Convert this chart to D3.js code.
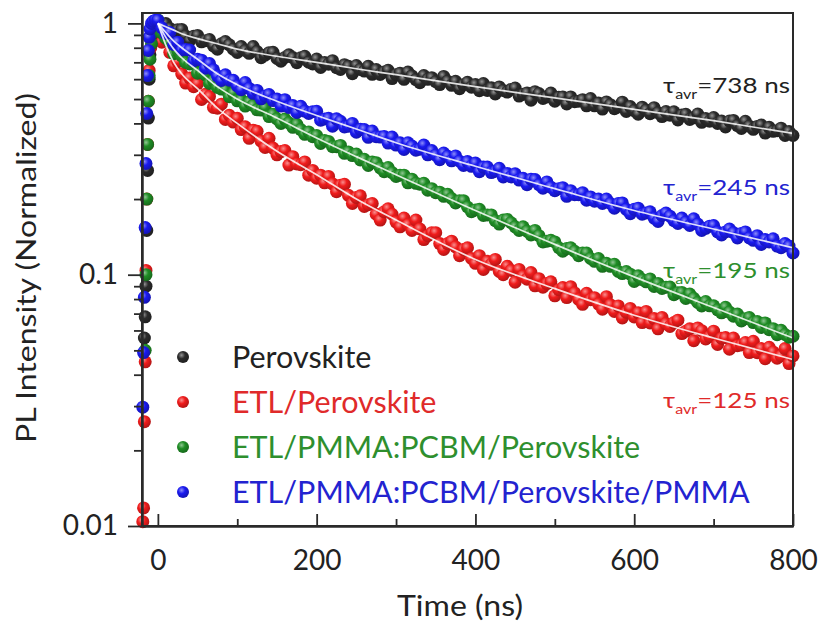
<!DOCTYPE html>
<html>
<head>
<meta charset="utf-8">
<script src="https://cdn.jsdelivr.net/npm/d3@7"></script>
<style>
  html, body { margin: 0; padding: 0; background: #fff; }
  svg { display: block; }
  text { font-family: Lato, "Open Sans", sans-serif; }
</style>
</head>
<body>
<svg id="chart" width="821" height="625"></svg>
<script>
// ---- data ---------------------------------------------------------------
const seriesNames = ["Perovskite", "ETL/Perovskite", "ETL/PMMA:PCBM/Perovskite", "ETL/PMMA:PCBM/Perovskite/PMMA"];
const seriesColors = ["#2b2b2b", "#f01c1c", "#1f8d25", "#1a1af0"];
const textColors = ["#222222", "#e02a2a", "#2e8f2e", "#2323d0"];
const tauLabels = ["738", "125", "195", "245"];

// rising edge of each transient (ns, normalized PL)
const riseTimesBlack = [-17, -16, -15, -14, -13, -12, -11, -10, -8, -6, -3];
const riseBlack = [0.056, 0.068, 0.09, 0.15, 0.26, 0.42, 0.6, 0.75, 0.88, 0.96, 1.0];
const riseTimesRed = [-19, -18, -17, -16, -15, -14, -13, -12, -11, -9, -7, -4];
const riseRed = [0.0104, 0.0118, 0.026, 0.045, 0.104, 0.2, 0.33, 0.49, 0.65, 0.8, 0.92, 0.98];
const riseTimesGreen = [-16, -15, -14, -13, -12, -11, -10, -8, -6, -3];
const riseGreen = [0.05, 0.1, 0.2, 0.33, 0.49, 0.62, 0.72, 0.83, 0.92, 0.98];
const riseTimesBlue = [-19, -18, -17, -16, -15, -14, -13, -12, -11, -10, -8, -6, -3];
const riseBlue = [0.0297, 0.049, 0.0813, 0.154, 0.277, 0.438, 0.62, 0.78, 0.88, 0.95, 1.0, 1.02, 1.03];

// decay, sampled every 5 ns from 0 to 800 ns
const decayTimes = d3.range(0, 801, 5);
const decayBlack = [
  1.01, 0.965, 0.999, 0.955, 0.912, 0.944, 0.946, 0.891, 0.854, 0.889, 0.896, 0.845, 0.854, 0.863, 0.813, 0.789, 0.830, 0.847, 0.822, 0.790,
  0.766, 0.809, 0.780, 0.760, 0.809, 0.773, 0.730, 0.747, 0.765, 0.767, 0.725, 0.707, 0.732, 0.750, 0.731, 0.698, 0.730, 0.740, 0.701, 0.690,
  0.721, 0.668, 0.699, 0.688, 0.711, 0.666, 0.656, 0.685, 0.675, 0.631, 0.680, 0.656, 0.646, 0.675, 0.627, 0.655, 0.626, 0.641, 0.651, 0.603,
  0.625, 0.634, 0.599, 0.640, 0.618, 0.597, 0.581, 0.620, 0.599, 0.608, 0.586, 0.571, 0.615, 0.589, 0.567, 0.588, 0.550, 0.570, 0.583, 0.557,
  0.571, 0.540, 0.576, 0.541, 0.554, 0.524, 0.559, 0.541, 0.533, 0.546, 0.553, 0.514, 0.522, 0.529, 0.495, 0.535, 0.526, 0.503, 0.510, 0.528,
  0.490, 0.508, 0.510, 0.478, 0.510, 0.488, 0.490, 0.497, 0.470, 0.502, 0.470, 0.482, 0.456, 0.487, 0.475, 0.458, 0.465, 0.486, 0.446, 0.467,
  0.450, 0.435, 0.464, 0.452, 0.437, 0.462, 0.441, 0.426, 0.446, 0.431, 0.445, 0.413, 0.432, 0.435, 0.415, 0.421, 0.436, 0.404, 0.418, 0.408,
  0.422, 0.400, 0.409, 0.387, 0.409, 0.411, 0.392, 0.382, 0.408, 0.390, 0.379, 0.389, 0.394, 0.366, 0.386, 0.372, 0.374, 0.383, 0.358, 0.371,
  0.358];
const decayRed = [
  0.984, 0.842, 0.859, 0.767, 0.678, 0.704, 0.630, 0.579, 0.607, 0.560, 0.576, 0.498, 0.522, 0.512, 0.463, 0.460, 0.477, 0.415, 0.431, 0.405,
  0.419, 0.378, 0.388, 0.349, 0.376, 0.372, 0.340, 0.321, 0.349, 0.319, 0.300, 0.309, 0.312, 0.273, 0.295, 0.276, 0.274, 0.281, 0.249, 0.260,
  0.242, 0.249, 0.232, 0.246, 0.230, 0.214, 0.227, 0.229, 0.207, 0.192, 0.203, 0.206, 0.187, 0.190, 0.192, 0.174, 0.165, 0.178, 0.183, 0.174,
  0.162, 0.155, 0.168, 0.158, 0.150, 0.165, 0.152, 0.138, 0.143, 0.147, 0.147, 0.133, 0.126, 0.133, 0.136, 0.129, 0.119, 0.126, 0.128, 0.116,
  0.111, 0.119, 0.105, 0.113, 0.110, 0.115, 0.103, 0.100, 0.108, 0.104, 0.0934, 0.105, 0.0988, 0.096, 0.102, 0.0903, 0.0964, 0.0892, 0.0922, 0.0937,
  0.0824, 0.0871, 0.0889, 0.0811, 0.0896, 0.0846, 0.0797, 0.0762, 0.0843, 0.0795, 0.081, 0.0764, 0.0729, 0.0818, 0.0759, 0.0714, 0.0751, 0.0673, 0.0709, 0.0734,
  0.0679, 0.0706, 0.0645, 0.0714, 0.0643, 0.0669, 0.0609, 0.0676, 0.0638, 0.0622, 0.0645, 0.0659, 0.0583, 0.0596, 0.0609, 0.0546, 0.0614, 0.0599, 0.0555, 0.0567,
  0.0596, 0.0528, 0.0559, 0.0562, 0.0505, 0.056, 0.0522, 0.0525, 0.0537, 0.049, 0.0543, 0.0489, 0.0508, 0.0463, 0.0514, 0.0493, 0.0465, 0.0475, 0.0508, 0.0443,
  0.0475];
const decayGreen = [
  1.032, 0.917, 0.873, 0.842, 0.758, 0.778, 0.742, 0.699, 0.690, 0.691, 0.634, 0.637, 0.624, 0.577, 0.592, 0.556, 0.548, 0.545, 0.511, 0.528,
  0.492, 0.496, 0.469, 0.487, 0.472, 0.453, 0.452, 0.462, 0.426, 0.435, 0.417, 0.400, 0.416, 0.402, 0.386, 0.397, 0.378, 0.362, 0.370, 0.354,
  0.358, 0.333, 0.342, 0.339, 0.323, 0.323, 0.327, 0.304, 0.308, 0.298, 0.302, 0.286, 0.288, 0.272, 0.281, 0.279, 0.266, 0.257, 0.267, 0.255,
  0.246, 0.249, 0.249, 0.232, 0.240, 0.231, 0.229, 0.231, 0.217, 0.220, 0.212, 0.213, 0.205, 0.209, 0.201, 0.193, 0.197, 0.197, 0.186, 0.178,
  0.181, 0.182, 0.172, 0.173, 0.173, 0.164, 0.159, 0.165, 0.166, 0.161, 0.155, 0.150, 0.155, 0.149, 0.144, 0.150, 0.143, 0.135, 0.136, 0.137,
  0.135, 0.128, 0.124, 0.127, 0.128, 0.124, 0.119, 0.122, 0.122, 0.116, 0.113, 0.116, 0.108, 0.111, 0.108, 0.110, 0.103, 0.101, 0.103, 0.1005,
  0.094, 0.099, 0.0956, 0.0937, 0.0962, 0.0898, 0.0923, 0.0882, 0.0891, 0.0893, 0.0832, 0.0848, 0.085, 0.0804, 0.0838, 0.0806, 0.0775, 0.0751, 0.0782, 0.0752,
  0.0752, 0.0725, 0.0705, 0.0742, 0.071, 0.0684, 0.0697, 0.0655, 0.0668, 0.0675, 0.0645, 0.0651, 0.0617, 0.0643, 0.0604, 0.061, 0.0577, 0.0601, 0.0578, 0.0564,
  0.0569];
const decayBlue = [
  1.03, 0.96, 0.911, 0.920, 0.825, 0.842, 0.784, 0.788, 0.783, 0.710, 0.720, 0.714, 0.663, 0.692, 0.654, 0.617, 0.593, 0.624, 0.594, 0.594,
  0.564, 0.545, 0.582, 0.551, 0.527, 0.541, 0.501, 0.514, 0.521, 0.493, 0.500, 0.469, 0.497, 0.463, 0.471, 0.442, 0.468, 0.448, 0.438, 0.445,
  0.447, 0.412, 0.416, 0.419, 0.390, 0.417, 0.408, 0.387, 0.390, 0.400, 0.369, 0.379, 0.378, 0.352, 0.373, 0.354, 0.353, 0.355, 0.334, 0.353,
  0.328, 0.335, 0.315, 0.335, 0.325, 0.313, 0.316, 0.328, 0.300, 0.312, 0.299, 0.287, 0.305, 0.296, 0.284, 0.297, 0.283, 0.272, 0.282, 0.270,
  0.278, 0.257, 0.268, 0.268, 0.255, 0.258, 0.265, 0.245, 0.253, 0.245, 0.252, 0.238, 0.242, 0.228, 0.240, 0.239, 0.228, 0.221, 0.234, 0.223,
  0.216, 0.220, 0.222, 0.205, 0.216, 0.208, 0.208, 0.212, 0.198, 0.204, 0.196, 0.200, 0.192, 0.200, 0.192, 0.184, 0.192, 0.193, 0.182, 0.175,
  0.182, 0.184, 0.174, 0.176, 0.178, 0.168, 0.163, 0.172, 0.176, 0.171, 0.164, 0.160, 0.168, 0.162, 0.157, 0.167, 0.159, 0.150, 0.153, 0.156,
  0.157, 0.148, 0.144, 0.148, 0.152, 0.147, 0.140, 0.146, 0.148, 0.140, 0.137, 0.143, 0.132, 0.138, 0.135, 0.139, 0.130, 0.128, 0.133, 0.130,
  0.122];

// fitted decay curves
const fitTimes = [0, 10, 20, 30, 50, 75, 100, 150, 200, 250, 300, 400, 500, 600, 700, 800];
const fitBlack = [1.0, 0.97, 0.94, 0.91, 0.87, 0.83, 0.79, 0.74, 0.70, 0.66, 0.625, 0.56, 0.505, 0.455, 0.41, 0.365];
const fitRed = [1.0, 0.82, 0.70, 0.63, 0.55, 0.46, 0.40, 0.31, 0.25, 0.20, 0.165, 0.115, 0.088, 0.069, 0.056, 0.046];
const fitGreen = [1.0, 0.88, 0.79, 0.73, 0.65, 0.56, 0.50, 0.42, 0.35, 0.295, 0.25, 0.18, 0.132, 0.098, 0.074, 0.056];
const fitBlue = [1.0, 0.92, 0.85, 0.80, 0.72, 0.63, 0.57, 0.49, 0.43, 0.38, 0.335, 0.27, 0.22, 0.18, 0.152, 0.128];

const xTickValues = [0, 200, 400, 600, 800];
const xMinorTicks = [100, 300, 500, 700];
const yTickValues = [0.01, 0.1, 1];
const yTickLabels = ["0.01", "0.1", "1"];

// ---- layout -------------------------------------------------------------
const frame = { left: 142, right: 793, top: 13, bottom: 526 };
const svg = d3.select("#chart");

const x = d3.scaleLinear().domain([-20, 800]).range([frame.left, frame.right]);
const y = d3.scaleLog().domain([0.01, 1.1]).range([frame.bottom, frame.top]);

// sphere shading for the markers
const defs = svg.append("defs");
seriesColors.forEach((c, i) => {
  const g = defs.append("radialGradient").attr("id", "ball" + i)
    .attr("cx", "38%").attr("cy", "35%").attr("r", "65%");
  g.append("stop").attr("offset", "0%").attr("stop-color", d3.interpolateRgb(c, "#ffffff")(0.5));
  g.append("stop").attr("offset", "45%").attr("stop-color", c);
  g.append("stop").attr("offset", "100%").attr("stop-color", d3.color(c).darker(0.8));
});

const series = [
  { rt: riseTimesBlack, rv: riseBlack, dv: decayBlack, fv: fitBlack },
  { rt: riseTimesRed, rv: riseRed, dv: decayRed, fv: fitRed },
  { rt: riseTimesGreen, rv: riseGreen, dv: decayGreen, fv: fitGreen },
  { rt: riseTimesBlue, rv: riseBlue, dv: decayBlue, fv: fitBlue }
];

const line = d3.line().x(d => x(d[0])).y(d => y(d[1])).curve(d3.curveMonotoneX);

series.forEach((s, i) => {
  const pts = s.rt.map((t, k) => [t, s.rv[k]]).concat(decayTimes.map((t, k) => [t, s.dv[k]]));
  svg.append("g").selectAll("circle").data(pts).join("circle")
    .attr("cx", d => x(d[0])).attr("cy", d => y(d[1])).attr("r", 6.5)
    .attr("fill", `url(#ball${i})`);
});
series.forEach((s, i) => {
  svg.append("path").datum(fitTimes.map((t, k) => [t, s.fv[k]]))
    .attr("d", line).attr("fill", "none")
    .attr("stroke", "#ffffff").attr("stroke-opacity", 0.85).attr("stroke-width", 1.7);
});

// frame
svg.append("rect").attr("x", frame.left).attr("y", frame.top)
  .attr("width", frame.right - frame.left).attr("height", frame.bottom - frame.top)
  .attr("fill", "none").attr("stroke", "#2a2a2a").attr("stroke-width", 2);

// x axis: ticks point into the plot
svg.append("g").attr("transform", `translate(0,${frame.bottom})`)
  .call(d3.axisBottom(x).tickValues(xTickValues).tickSize(-12).tickSizeOuter(0).tickPadding(24).tickFormat(d3.format("d")));
svg.append("g").attr("transform", `translate(0,${frame.bottom})`)
  .call(d3.axisBottom(x).tickValues(xMinorTicks).tickSize(-7).tickSizeOuter(0).tickFormat(""));

// y axis: ticks point outward
const minorY = [];
[0.01, 0.1].forEach(dec => { for (let m = 2; m <= 9; m++) minorY.push(dec * m); });
svg.append("g").attr("transform", `translate(${frame.left},0)`)
  .call(d3.axisLeft(y).tickValues(yTickValues).tickSize(14).tickSizeOuter(0).tickPadding(10)
    .tickFormat((d, k) => yTickLabels[k]));
svg.append("g").attr("transform", `translate(${frame.left},0)`)
  .call(d3.axisLeft(y).tickValues(minorY).tickSize(8).tickSizeOuter(0).tickFormat(""));

svg.selectAll(".domain").attr("stroke", "#2a2a2a").attr("stroke-width", 2);
svg.selectAll(".tick line").attr("stroke", "#2a2a2a").attr("stroke-width", 1.8);
svg.selectAll(".tick text").attr("font-size", 28).attr("fill", "#222").style("font-family", "Lato");

// axis titles
svg.append("text").attr("x", 460).attr("y", 616).attr("text-anchor", "middle")
  .attr("font-size", 28).attr("fill", "#222")
  .attr("textLength", 126).attr("lengthAdjust", "spacingAndGlyphs").text("Time (ns)");
svg.append("text").attr("transform", "translate(36,268) rotate(-90)").attr("text-anchor", "middle")
  .attr("font-size", 26).attr("fill", "#222")
  .attr("textLength", 350).attr("lengthAdjust", "spacingAndGlyphs").text("PL Intensity (Normalized)");

// legend
const legendY = [357, 402, 447, 492];
seriesNames.forEach((name, i) => {
  svg.append("circle").attr("cx", 183).attr("cy", legendY[i]).attr("r", 6).attr("fill", `url(#ball${i})`);
  svg.append("text").attr("x", 232).attr("y", legendY[i]).attr("dy", "0.36em")
    .attr("font-size", 30.5).attr("fill", textColors[i]).text(name);
});

// average lifetime labels
const tauY = [93, 408, 278, 195];
tauLabels.forEach((v, i) => {
  const t = svg.append("text").attr("x", 790).attr("y", tauY[i]).attr("text-anchor", "end")
    .attr("font-size", 21).attr("fill", textColors[i])
    .attr("textLength", 127).attr("lengthAdjust", "spacingAndGlyphs");
  t.append("tspan").text("τ");
  t.append("tspan").attr("dy", 6).attr("font-size", 13).text("avr");
  t.append("tspan").attr("dy", -6).text("=" + v + " ns");
});
</script>
</body>
</html>
